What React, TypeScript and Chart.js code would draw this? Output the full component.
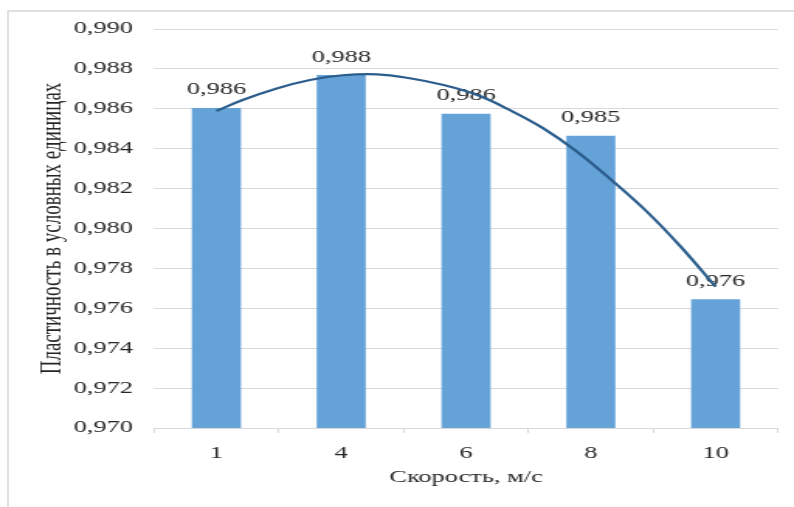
import React, { useEffect, useRef } from 'react';
import { Chart, registerables } from 'chart.js';

Chart.register(...registerables);

// ---- data ----
const categories = ['1', '4', '6', '8', '10'];
const barValues = [0.98604, 0.98769, 0.98575, 0.98465, 0.97645];
// polynomial trendline, points (x = category position, 1..5)
const trendX = [1.0, 1.21, 1.49, 1.75, 2.01, 2.29, 2.55, 2.82, 3.09, 3.35, 3.62, 3.89, 4.18, 4.45, 4.72, 5.0];
const trendY = [0.98589, 0.98644, 0.98703, 0.98744, 0.98768, 0.98773, 0.98753, 0.98719, 0.98669, 0.98594, 0.98502, 0.98385, 0.98235, 0.98084, 0.97909, 0.97708];
const yMin = 0.97;
const yMax = 0.99;
const yStep = 0.002;
const xTitle = 'Скорость, м/с';
const yTitle = 'Пластичность в условных единицах';

const K = 794 / 512; // horizontal stretch of the original picture
const FONT = "'Liberation Serif', 'Times New Roman', serif";
const TEXT = '#262626';

const fmt = (v: number) => v.toFixed(3).replace('.', ',');

const labelPlugin = {
  id: 'barLabels',
  afterDatasetDraw(chart: any, args: any) {
    if (args.index !== 0) return;
    const ctx = chart.ctx;
    ctx.save();
    ctx.font = `17px ${FONT}`;
    ctx.fillStyle = TEXT;
    ctx.textAlign = 'center';
    ctx.textBaseline = 'middle';
    args.meta.data.forEach((el: any, i: number) => {
      ctx.fillText(fmt(barValues[i]), el.x, el.y - 18);
    });
    ctx.restore();
  },
};

export default function App() {
  const ref = useRef<HTMLCanvasElement>(null);
  useEffect(() => {
    if (!ref.current) return;
    const chart = new Chart(ref.current, {
      type: 'bar',
      data: {
        labels: categories,
        datasets: [
          {
            type: 'bar',
            data: barValues,
            backgroundColor: '#64a2d8',
            barPercentage: 0.393,
            categoryPercentage: 1,
            grouped: false,
            xAxisID: 'x',
            yAxisID: 'y',
            order: 1,
          } as any,
          {
            type: 'line',
            data: trendX.map((x, i) => ({ x, y: trendY[i] })),
            borderColor: '#2b5d8c',
            borderWidth: 2.2,
            pointRadius: 0,
            tension: 0.4,
            fill: false,
            xAxisID: 'xt',
            yAxisID: 'y',
            order: 0,
          } as any,
        ],
      },
      options: {
        responsive: false,
        devicePixelRatio: 1,
        animation: false,
        layout: { padding: { left: 5, right: 10.3, top: 29, bottom: 14.8 } },
        plugins: { legend: { display: false }, tooltip: { enabled: false } },
        scales: {
          x: {
            type: 'category',
            offset: true,
            grid: {
              display: true,
              drawOnChartArea: false,
              drawTicks: true,
              tickLength: 5,
              color: '#d9d9d9',
              offset: true,
            },
            border: { display: true, color: '#d9d9d9' },
            ticks: { font: { family: FONT, size: 17 }, color: TEXT, padding: 10, maxRotation: 0, autoSkip: false },
            title: {
              display: true,
              text: xTitle,
              font: { family: FONT, size: 17 },
              color: TEXT,
              padding: { top: 4.4, bottom: 4 },
            },
            afterFit: (s: any) => {
              s.height = 64.2;
            },
          },
          xt: {
            type: 'linear',
            display: false,
            min: 0.5,
            max: 5.5,
            offset: false,
          },
          y: {
            min: yMin,
            max: yMax,
            ticks: {
              stepSize: yStep,
              font: { family: FONT, size: 17 },
              color: TEXT,
              padding: 13.5,
              callback: (v: any) => fmt(Number(v)),
            },
            grid: { color: '#d9d9d9', drawTicks: false },
            border: { display: false },
            title: {
              display: true,
              text: yTitle,
              font: { family: FONT, size: 19 },
              color: TEXT,
              padding: { top: 17.8, bottom: 0 },
            },
            afterFit: (s: any) => {
              s.width = 94.3;
            },
          },
        },
      } as any,
      plugins: [labelPlugin],
    });
    return () => chart.destroy();
  }, []);

  return (
    <div
      style={{
        position: 'absolute',
        left: 0,
        top: 0,
        width: 794,
        height: 507,
        overflow: 'hidden',
        background: '#ffffff',
      }}
    >
      <div
        style={{
          position: 'absolute',
          left: 7,
          top: 10,
          width: 820,
          height: 600,
          border: '2px solid #e0e0e0',
          boxSizing: 'border-box',
        }}
      />
      <canvas
        ref={ref}
        width={512}
        height={507}
        style={{ position: 'absolute', left: 0, top: 0, transform: `scaleX(${K})`, transformOrigin: '0 0' }}
      />
    </div>
  );
}
